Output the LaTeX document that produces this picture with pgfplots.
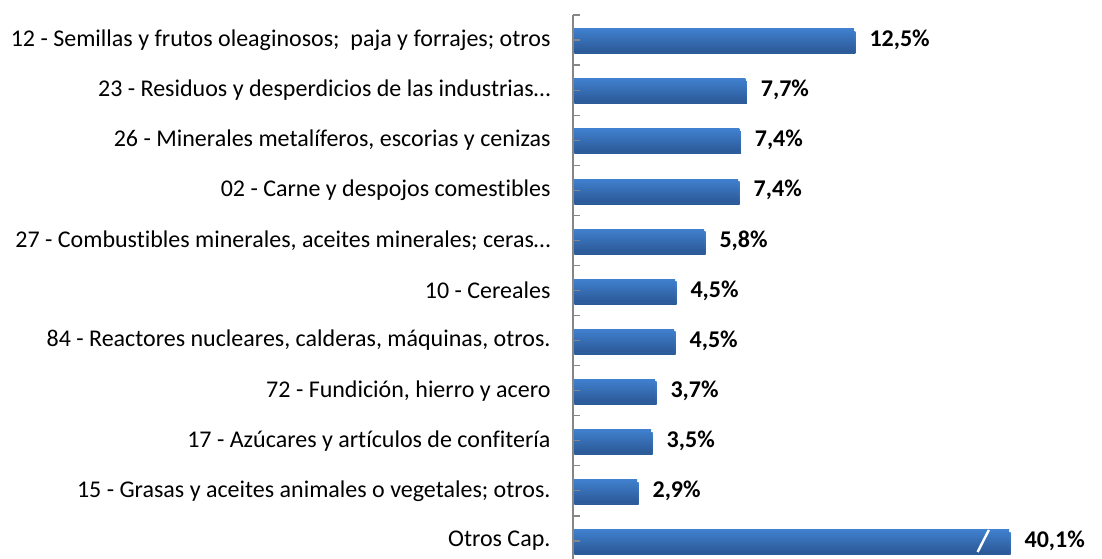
\documentclass[border=0pt]{standalone}
\usepackage{pgfplots}
\pgfplotsset{compat=1.18}
\usepackage{fontspec}
\setmainfont{Carlito}[Ligatures=NoCommon]
\definecolor{bartop}{RGB}{64,128,206}
\definecolor{barbot}{RGB}{44,90,152}
\definecolor{axgray}{RGB}{134,134,134}
\pgfplotsset{
  mybar/.style={draw=none, top color=bartop, bottom color=barbot, bar shift=0pt,
    preaction={fill=black!8, transform canvas={xshift=1.5bp, yshift=-2.5bp}}},
}
\begin{document}
\begin{tikzpicture}
\begin{axis}[
  at={(0,0)}, anchor=south west,
  scale only axis,
  width=449.6bp, height=544bp,
  xmin=0, xmax=20,
  ymin=-0.36, ymax=10.5,
  xbar, bar width=22.5bp,
  axis on top,
  axis x line=none,
  axis y line*=left,
  y axis line style={axgray, line width=1.6bp, -},
  ytick={0,...,10},
  yticklabels={Otros Cap.,
    15 - Grasas y aceites animales o vegetales; otros.,
    17 - Azúcares y artículos de confitería,
    72 - Fundición{,} hierro y acero,
    84 - Reactores nucleares{,} calderas{,} máquinas{,} otros.,
    10 - Cereales,
    27 - Combustibles minerales{,} aceites minerales; ceras…,
    02 - Carne y despojos comestibles,
    26 - Minerales metalíferos{,} escorias y cenizas,
    23 - Residuos y desperdicios de las industrias…,
    12 - Semillas y frutos oleaginosos;\ \ paja y forrajes; otros},
  extra y ticks={-0.5,0.5,...,10.5},
  extra y tick labels={},
  extra y tick style={tick style={axgray, line width=1.2bp}},
  tick style={axgray, line width=1.2bp},
  major tick length=7bp,
  tick align=inside,
  yticklabel style={font=\fontsize{24bp}{28bp}\selectfont, text=black, xshift=-19bp},
  nodes near coords,
  point meta=explicit symbolic,
  nodes near coords style={font=\fontsize{24bp}{28bp}\selectfont\bfseries, text=black, anchor=west, xshift=12bp},
  clip=false,
]
\addplot[mybar] coordinates {(19.4,0) [40,1\%]};
\addplot[mybar] coordinates {(2.85,1) [2,9\%]};
\addplot[mybar] coordinates {(3.48,2) [3,5\%]};
\addplot[mybar] coordinates {(3.65,3) [3,7\%]};
\addplot[mybar] coordinates {(4.5,4) [4,5\%]};
\addplot[mybar] coordinates {(4.54,5) [4,5\%]};
\addplot[mybar] coordinates {(5.83,6) [5,8\%]};
\addplot[mybar] coordinates {(7.35,7) [7,4\%]};
\addplot[mybar] coordinates {(7.4,8) [7,4\%]};
\addplot[mybar] coordinates {(7.67,9) [7,7\%]};
\addplot[mybar] coordinates {(12.5,10) [12,5\%]};
\draw[white, line width=2.4bp] (axis cs:18.0,-0.22) -- (axis cs:18.5,0.22);
\end{axis}
\pgfresetboundingbox
\path (-573bp,0bp) rectangle (529bp,559bp);
\end{tikzpicture}
\end{document}
